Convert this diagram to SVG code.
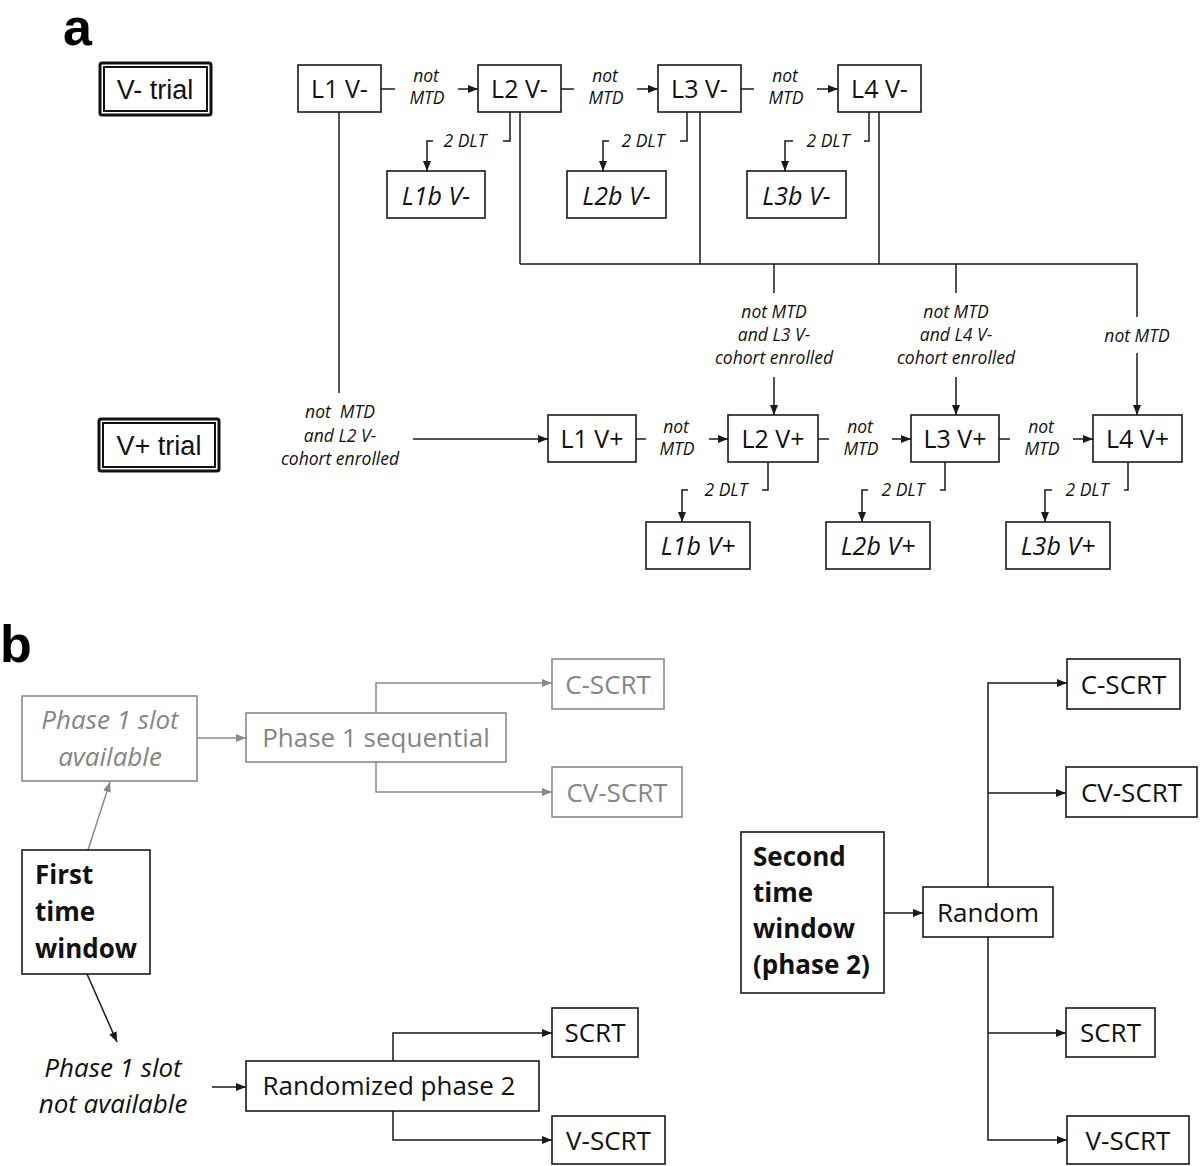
<svg xmlns="http://www.w3.org/2000/svg" width="1200" height="1166" viewBox="0 0 1200 1166">
<style>
.bx{fill:#fff;stroke:#1a1a1a;stroke-width:1.6}
.gbx{fill:#fff;stroke:#8a8a8a;stroke-width:1.6}
.ln{fill:none;stroke:#1a1a1a;stroke-width:1.5}
.gln{fill:none;stroke:#8a8a8a;stroke-width:1.5}
.arr{marker-end:url(#ah)}
.garr{marker-end:url(#gah)}
text{font-family:"Open Sans","Liberation Sans",sans-serif;fill:#111}
.t25{font-size:25px;text-anchor:middle}
.i25{font-size:25px;text-anchor:middle;font-style:italic}
.sm{font-size:17.5px;text-anchor:middle;font-style:italic}
.t26{font-size:26px;text-anchor:middle}
.i26{font-size:26px;text-anchor:middle;font-style:italic}
.b26{font-size:26px;font-weight:bold}
.g{fill:#858585}
.trial{font-family:"Liberation Sans",Arial,sans-serif;font-size:27px;text-anchor:middle}
.panel{font-family:"Liberation Sans",Arial,sans-serif;font-size:52px;font-weight:bold;fill:#000}
.outer{fill:#fff;stroke:#111;stroke-width:3}
.inner{fill:none;stroke:#111;stroke-width:2}
</style>
<defs>
<marker id="ah" markerUnits="userSpaceOnUse" markerWidth="10" markerHeight="8" refX="10" refY="4" orient="auto">
<path d="M0,0 L10,4 L0,8 z" fill="#1a1a1a"/>
</marker>
<marker id="gah" markerUnits="userSpaceOnUse" markerWidth="10" markerHeight="8" refX="10" refY="4" orient="auto">
<path d="M0,0 L10,4 L0,8 z" fill="#8a8a8a"/>
</marker>
</defs>
<rect width="1200" height="1166" fill="#fff"/>

<text class="panel" x="63" y="45">a</text>
<text class="panel" x="0" y="662">b</text>

<g id="connectors">
<!-- V- chain -->
<line class="ln" x1="381" y1="89" x2="395" y2="89"/>
<line class="ln arr" x1="458" y1="89" x2="478" y2="89"/>
<line class="ln" x1="561" y1="89" x2="574" y2="89"/>
<line class="ln arr" x1="637" y1="89" x2="658" y2="89"/>
<line class="ln" x1="741" y1="89" x2="754" y2="89"/>
<line class="ln arr" x1="817" y1="89" x2="838" y2="89"/>
<!-- V- 2 DLT -->
<polyline class="ln" points="510,112 510,141 503,141"/>
<polyline class="ln arr" points="433,141 427,141 427,171"/>
<polyline class="ln" points="687,112 687,141 680,141"/>
<polyline class="ln arr" points="609,141 603,141 603,171"/>
<polyline class="ln" points="869,112 869,141 864,141"/>
<polyline class="ln arr" points="793,141 785,141 785,171"/>
<!-- V- to V+ -->
<line class="ln" x1="339" y1="112" x2="339" y2="393"/>
<line class="ln arr" x1="413" y1="439" x2="548" y2="439"/>
<line class="ln" x1="520" y1="112" x2="520" y2="264"/>
<line class="ln" x1="700" y1="112" x2="700" y2="264"/>
<line class="ln" x1="879" y1="112" x2="879" y2="264"/>
<polyline class="ln" points="520,264 1137,264 1137,317"/>
<line class="ln" x1="774" y1="264" x2="774" y2="293"/>
<line class="ln" x1="956" y1="264" x2="956" y2="293"/>
<line class="ln arr" x1="774" y1="377" x2="774" y2="415"/>
<line class="ln arr" x1="956" y1="377" x2="956" y2="415"/>
<line class="ln arr" x1="1137" y1="353" x2="1137" y2="415"/>
<!-- V+ chain -->
<line class="ln" x1="636" y1="439" x2="646" y2="439"/>
<line class="ln arr" x1="709" y1="439" x2="728" y2="439"/>
<line class="ln" x1="818" y1="439" x2="829" y2="439"/>
<line class="ln arr" x1="892" y1="439" x2="911" y2="439"/>
<line class="ln" x1="999" y1="439" x2="1010" y2="439"/>
<line class="ln arr" x1="1073" y1="439" x2="1093" y2="439"/>
<!-- V+ 2 DLT -->
<polyline class="ln" points="768,462 768,490 762,490"/>
<polyline class="ln arr" points="688,490 682,490 682,522"/>
<polyline class="ln" points="945,462 945,490 940,490"/>
<polyline class="ln arr" points="868,490 862,490 862,522"/>
<polyline class="ln" points="1128,462 1128,490 1124,490"/>
<polyline class="ln arr" points="1052,490 1045,490 1045,522"/>
<!-- panel b left -->
<line class="gln garr" x1="88" y1="850" x2="110" y2="782"/>
<line class="gln garr" x1="197" y1="738" x2="246" y2="738"/>
<polyline class="gln garr" points="376,713 376,683 552,683"/>
<polyline class="gln garr" points="376,762 376,792 552,792"/>
<line class="ln arr" x1="87" y1="974" x2="117" y2="1042"/>
<line class="ln arr" x1="212" y1="1087" x2="246" y2="1087"/>
<polyline class="ln arr" points="393,1061 393,1033 552,1033"/>
<polyline class="ln arr" points="393,1111 393,1140 552,1140"/>
<!-- panel b right -->
<line class="ln arr" x1="884" y1="913" x2="923" y2="913"/>
<polyline class="ln arr" points="988,887 988,683 1067,683"/>
<line class="ln arr" x1="988" y1="793" x2="1066" y2="793"/>
<polyline class="ln arr" points="988,937 988,1140 1067,1140"/>
<line class="ln arr" x1="988" y1="1033" x2="1066" y2="1033"/>
</g>

<g id="edge-labels">
<text class="sm" x="426" y="82">not</text><text class="sm" x="427" y="104">MTD</text>
<text class="sm" x="605" y="82">not</text><text class="sm" x="606" y="104">MTD</text>
<text class="sm" x="785" y="82">not</text><text class="sm" x="786" y="104">MTD</text>
<text class="sm" x="465" y="147">2 DLT</text>
<text class="sm" x="643" y="147">2 DLT</text>
<text class="sm" x="828" y="147">2 DLT</text>
<text class="sm" x="340" y="418" xml:space="preserve">not  MTD</text>
<text class="sm" x="340" y="442">and L2 V-</text>
<text class="sm" x="340" y="465">cohort enrolled</text>
<text class="sm" x="774" y="318">not MTD</text>
<text class="sm" x="774" y="341">and L3 V-</text>
<text class="sm" x="774" y="364">cohort enrolled</text>
<text class="sm" x="956" y="318">not MTD</text>
<text class="sm" x="956" y="341">and L4 V-</text>
<text class="sm" x="956" y="364">cohort enrolled</text>
<text class="sm" x="1137" y="342">not MTD</text>
<text class="sm" x="676" y="433">not</text><text class="sm" x="677" y="455">MTD</text>
<text class="sm" x="860" y="433">not</text><text class="sm" x="861" y="455">MTD</text>
<text class="sm" x="1041" y="433">not</text><text class="sm" x="1042" y="455">MTD</text>
<text class="sm" x="726" y="496">2 DLT</text>
<text class="sm" x="903" y="496">2 DLT</text>
<text class="sm" x="1087" y="496">2 DLT</text>
</g>

<g id="v-trial">
<rect class="outer" x="100" y="63" width="111" height="52" rx="2"/>
<rect class="inner" x="104" y="67" width="103" height="44"/>
<text class="trial" x="155" y="99">V- trial</text>
</g>
<g id="vplus-trial">
<rect class="outer" x="99" y="419" width="120" height="52" rx="2"/>
<rect class="inner" x="103" y="423" width="112" height="44"/>
<text class="trial" x="159" y="455">V+ trial</text>
</g>

<g id="L1Vm"><rect class="bx" x="298" y="65" width="83" height="47"/><text class="t25" x="339.5" y="98">L1 V-</text></g>
<g id="L2Vm"><rect class="bx" x="478" y="65" width="83" height="47"/><text class="t25" x="519.5" y="98">L2 V-</text></g>
<g id="L3Vm"><rect class="bx" x="658" y="65" width="83" height="47"/><text class="t25" x="699.5" y="98">L3 V-</text></g>
<g id="L4Vm"><rect class="bx" x="838" y="65" width="83" height="47"/><text class="t25" x="879.5" y="98">L4 V-</text></g>

<g id="L1bVm"><rect class="bx" x="387" y="171" width="98" height="47"/><text class="i25" x="436" y="205">L1b V-</text></g>
<g id="L2bVm"><rect class="bx" x="567" y="171" width="99" height="47"/><text class="i25" x="616.5" y="205">L2b V-</text></g>
<g id="L3bVm"><rect class="bx" x="747" y="171" width="99" height="47"/><text class="i25" x="796.5" y="205">L3b V-</text></g>

<g id="L1Vp"><rect class="bx" x="548" y="415" width="88" height="47"/><text class="t25" x="592" y="448">L1 V+</text></g>
<g id="L2Vp"><rect class="bx" x="728" y="415" width="90" height="47"/><text class="t25" x="773" y="448">L2 V+</text></g>
<g id="L3Vp"><rect class="bx" x="911" y="415" width="88" height="47"/><text class="t25" x="955" y="448">L3 V+</text></g>
<g id="L4Vp"><rect class="bx" x="1093" y="415" width="89" height="47"/><text class="t25" x="1137.5" y="448">L4 V+</text></g>

<g id="L1bVp"><rect class="bx" x="646" y="522" width="104" height="47"/><text class="i25" x="698" y="555">L1b V+</text></g>
<g id="L2bVp"><rect class="bx" x="826" y="522" width="104" height="47"/><text class="i25" x="878" y="555">L2b V+</text></g>
<g id="L3bVp"><rect class="bx" x="1006" y="522" width="104" height="47"/><text class="i25" x="1058" y="555">L3b V+</text></g>

<g id="phase1-slot-available">
<rect class="gbx" x="22" y="696" width="175" height="85"/>
<text class="i26 g" x="110" y="729">Phase 1 slot</text>
<text class="i26 g" x="110" y="766">available</text>
</g>
<g id="phase1-sequential">
<rect class="gbx" x="246" y="713" width="260" height="49"/>
<text class="t26 g" x="376" y="747">Phase 1 sequential</text>
</g>
<g id="c-scrt-1"><rect class="gbx" x="552" y="659" width="112" height="50"/><text class="t26 g" x="608" y="694">C-SCRT</text></g>
<g id="cv-scrt-1"><rect class="gbx" x="552" y="767" width="130" height="50"/><text class="t26 g" x="617" y="802">CV-SCRT</text></g>

<g id="first-time-window">
<rect class="bx" x="22" y="850" width="128" height="124"/>
<text class="b26" x="35" y="884">First</text>
<text class="b26" x="35" y="921">time</text>
<text class="b26" x="35" y="958">window</text>
</g>
<g id="phase1-slot-not-available">
<text class="i26" x="113" y="1077">Phase 1 slot</text>
<text class="i26" x="113" y="1113">not available</text>
</g>
<g id="randomized-phase2">
<rect class="bx" x="246" y="1061" width="293" height="50"/>
<text class="t26" x="389" y="1095">Randomized phase 2</text>
</g>
<g id="scrt-1"><rect class="bx" x="552" y="1008" width="86" height="49"/><text class="t26" x="595" y="1042">SCRT</text></g>
<g id="v-scrt-1"><rect class="bx" x="552" y="1116" width="113" height="48"/><text class="t26" x="608.5" y="1150">V-SCRT</text></g>

<g id="second-time-window">
<rect class="bx" x="741" y="832" width="143" height="161"/>
<text class="b26" x="753" y="866">Second</text>
<text class="b26" x="753" y="902">time</text>
<text class="b26" x="753" y="938">window</text>
<text class="b26" x="753" y="974">(phase 2)</text>
</g>
<g id="random">
<rect class="bx" x="923" y="887" width="130" height="50"/>
<text class="t26" x="988" y="922">Random</text>
</g>
<g id="c-scrt-2"><rect class="bx" x="1067" y="659" width="113" height="50"/><text class="t26" x="1123.5" y="694">C-SCRT</text></g>
<g id="cv-scrt-2"><rect class="bx" x="1066" y="767" width="131" height="50"/><text class="t26" x="1131.5" y="802">CV-SCRT</text></g>
<g id="scrt-2"><rect class="bx" x="1066" y="1008" width="89" height="49"/><text class="t26" x="1110.5" y="1042">SCRT</text></g>
<g id="v-scrt-2"><rect class="bx" x="1067" y="1116" width="122" height="48"/><text class="t26" x="1128" y="1150">V-SCRT</text></g>
</svg>
